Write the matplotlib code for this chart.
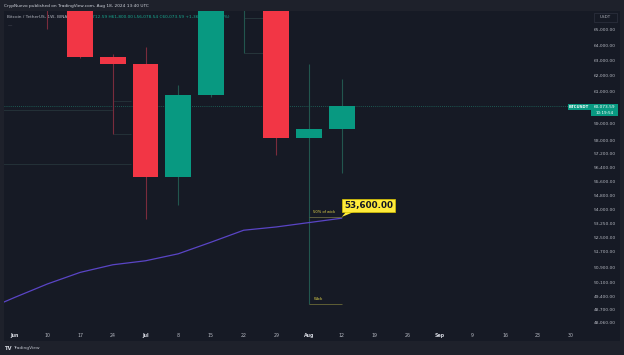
import matplotlib
matplotlib.use("Agg")
import matplotlib.pyplot as plt
from matplotlib.ticker import FixedLocator, NullLocator, FuncFormatter
from matplotlib.patches import Rectangle, Polygon

# ---------------- data ----------------
weeks = [0, 1, 2, 3, 4, 5, 6, 7, 8, 9, 10]
opens = [67765, 69648, 66676, 63210, 62772, 55857, 60797, 68165, 68255, 58161, 58712.59]
highs = [71997, 70195, 67298, 63400, 63861, 61420, 68366, 68480, 70079, 62745, 61800.00]
lows = [67612, 65078, 63180, 58402, 53485, 54260, 60632, 63456, 57122, 49000, 56078.54]
closes = [69648, 66676, 63210, 62772, 55857, 60797, 68165, 68255, 58161, 58712, 60073.59]

ma_weeks = [-1, 0, 1, 2, 3, 4, 5, 6, 7, 8, 9, 10]
ma_vals = [48620, 49330, 50020, 50620, 51020, 51230, 51600, 52220, 52870, 53050, 53290, 53530]

xtick_labels = ["Jun", "10", "17", "24", "Jul", "8", "15", "22", "29",
                "Aug", "12", "19", "26", "Sep", "9", "16", "23", "30"]
month_labels = ["Jun", "Jul", "Aug", "Sep"]
price_ticks = [65000, 64000, 63000, 62000, 61000, 59000, 58000, 57200, 56400,
               55600, 54800, 54000, 53250, 52500, 51700, 50900, 50100, 49400,
               48700, 48060]
last_price = 60073.59
wick_low = 49000
half_wick = 53600
callout_text = "53,600.00"

# ---------------- style ----------------
W, H = 624, 355
OUTER = "#1e212b"
PANEL = "#161a25"
RED = "#f23645"
GREEN = "#089981"
RED_WICK = "#7a2c3c"
GREEN_WICK = "#22564e"
TXT = "#b2b5be"

def fx(x):
    return x / W

def fy(y):
    return 1 - y / H

fig = plt.figure(figsize=(W / 100, H / 100), dpi=100, facecolor=OUTER)
fig.patches.append(Rectangle((fx(4), fy(341)), (620 - 4) / W, (341 - 11) / H,
                             transform=fig.transFigure, facecolor=PANEL,
                             edgecolor="none", zorder=-5))

ax = fig.add_axes([fx(4), fy(329), 587 / W, 318 / H])
ax.set_zorder(1)
ax.set_facecolor(PANEL)
for s in ax.spines.values():
    s.set_visible(False)
ax.set_yscale("log")
ax.set_ylim(47749, 66286)
ax.set_xlim(-0.327, 17.62)

# axes ticks
ax.yaxis.tick_right()
ax.yaxis.set_major_locator(FixedLocator(price_ticks))
ax.yaxis.set_minor_locator(NullLocator())
ax.yaxis.set_major_formatter(FuncFormatter(lambda v, p: f"{v:,.2f}"))
ax.tick_params(axis="y", length=0, pad=2.2, labelsize=3.2, labelcolor=TXT)
ax.set_xticks(range(len(xtick_labels)))
ax.set_xticklabels(xtick_labels)
ax.tick_params(axis="x", length=0, pad=2.6, labelsize=3.4, labelcolor=TXT)
for lab in ax.get_xticklabels():
    if lab.get_text() in month_labels:
        lab.set_fontweight("bold")
        lab.set_color("#d1d4dc")

# faint drawings
fcol = "#2a3a3f"
ax.hlines(59855, -0.4, 3.0, color=fcol, lw=0.5, zorder=1)
ax.hlines(56610, -0.4, 3.56, color=fcol, lw=0.5, zorder=1)
ax.hlines([60400, 58400], 3.0, 3.56, color=fcol, lw=0.5, zorder=1)
ax.hlines([65810, 63456], 7.0, 7.6, color=fcol, lw=0.6, zorder=1)

# legend texts (behind candles)
ax.text(fx(7), fy(16.7), "Bitcoin / TetherUS, 1W, BINANCE", transform=fig.transFigure,
        fontsize=3.1, color=TXT, va="center", ha="left", zorder=1)
ax.text(fx(81.5), fy(16.7),
        "O58,712.59 H61,800.00 L56,078.54 C60,073.59 +1,361.00 (+2.32%)",
        transform=fig.transFigure, fontsize=3.1, color="#17a88f", va="center",
        ha="left", zorder=1)
ax.text(fx(8), fy(25), "—", transform=fig.transFigure, fontsize=3.2, color="#6a6d78",
        va="center", ha="left", zorder=1)

# current price line
ax.axhline(last_price, color="#1f6e62", lw=0.6, ls=(0, (1, 1.5)), zorder=1)

# candles
for w, o, h, l, c in zip(weeks, opens, highs, lows, closes):
    up = c >= o
    ax.vlines(w, l, h, color=GREEN_WICK if up else RED_WICK, lw=0.8, zorder=2)
    ax.bar(w, abs(c - o), bottom=min(o, c), width=0.79,
           color=GREEN if up else RED, edgecolor="none", zorder=3)

# moving average line
ax.plot(ma_weeks, ma_vals, color="#5a45c6", lw=0.9, zorder=4, solid_capstyle="round")

# wick annotations
ax.hlines(half_wick, 9, 10, color="#6a6a44", lw=0.6, zorder=4)
ax.hlines(wick_low, 9, 10, color="#6a6a38", lw=0.6, zorder=4)
ax.text(9.12, 53880, "50% of wick", fontsize=2.6, color="#e6d84a", ha="left",
        va="center", zorder=5)
ax.text(9.14, 49230, "Wick", fontsize=2.8, color="#e6d84a", ha="left",
        va="center", zorder=5)

# callout
ax.add_patch(Polygon([(10.0, half_wick), (10.14, 53900), (10.4, 53900)],
                     closed=True, facecolor="#ffeb3b", edgecolor="none", zorder=6))
ax.text(10.83, 54250, callout_text, fontsize=6.3, fontweight="bold", color="#131722",
        ha="center", va="center", zorder=7,
        bbox=dict(boxstyle="square,pad=0.22", facecolor="#ffeb3b",
                  edgecolor="#d8c400", lw=0.5))

# header / footer
fig.text(fx(4), fy(6), "CrypNuevo published on TradingView.com, Aug 18, 2024 13:40 UTC",
         fontsize=3.1, color="#d1d4dc", va="center", ha="left")
fig.text(fx(4), fy(348), "TV", fontsize=3.8, fontweight="bold", color="#d1d4dc",
         va="center", ha="left")
fig.text(fx(13.5), fy(348), "TradingView", fontsize=3.2, color="#c0c3cc",
         va="center", ha="left")

# price axis decorations
fig.patches.append(Rectangle((fx(594), fy(22)), 23 / W, 9 / H, transform=fig.transFigure,
                             facecolor=PANEL, edgecolor="#2e3240", lw=0.5, zorder=3))
fig.text(fx(605.5), fy(17.5), "USDT", fontsize=3.0, color=TXT, ha="center",
         va="center", zorder=4)
fig.patches.append(Rectangle((fx(567.7), fy(110.3)), 23 / W, 6 / H,
                             transform=fig.transFigure, facecolor=GREEN,
                             edgecolor="none", zorder=3))
fig.text(fx(579.2), fy(107.3), "BTCUSDT", fontsize=2.8, fontweight="bold",
         color="white", ha="center", va="center", zorder=4)
fig.patches.append(Rectangle((fx(591), fy(115.7)), 27 / W, 11.4 / H,
                             transform=fig.transFigure, facecolor=GREEN,
                             edgecolor="none", zorder=3))
fig.text(fx(604.5), fy(107.3), f"{last_price:,.2f}", fontsize=3.1, color="white",
         ha="center", va="center", zorder=4)
fig.text(fx(604.5), fy(112.6), "10:19:54", fontsize=3.0, color="white",
         ha="center", va="center", zorder=4)

fig.savefig("out.png", dpi=100, facecolor=OUTER)
